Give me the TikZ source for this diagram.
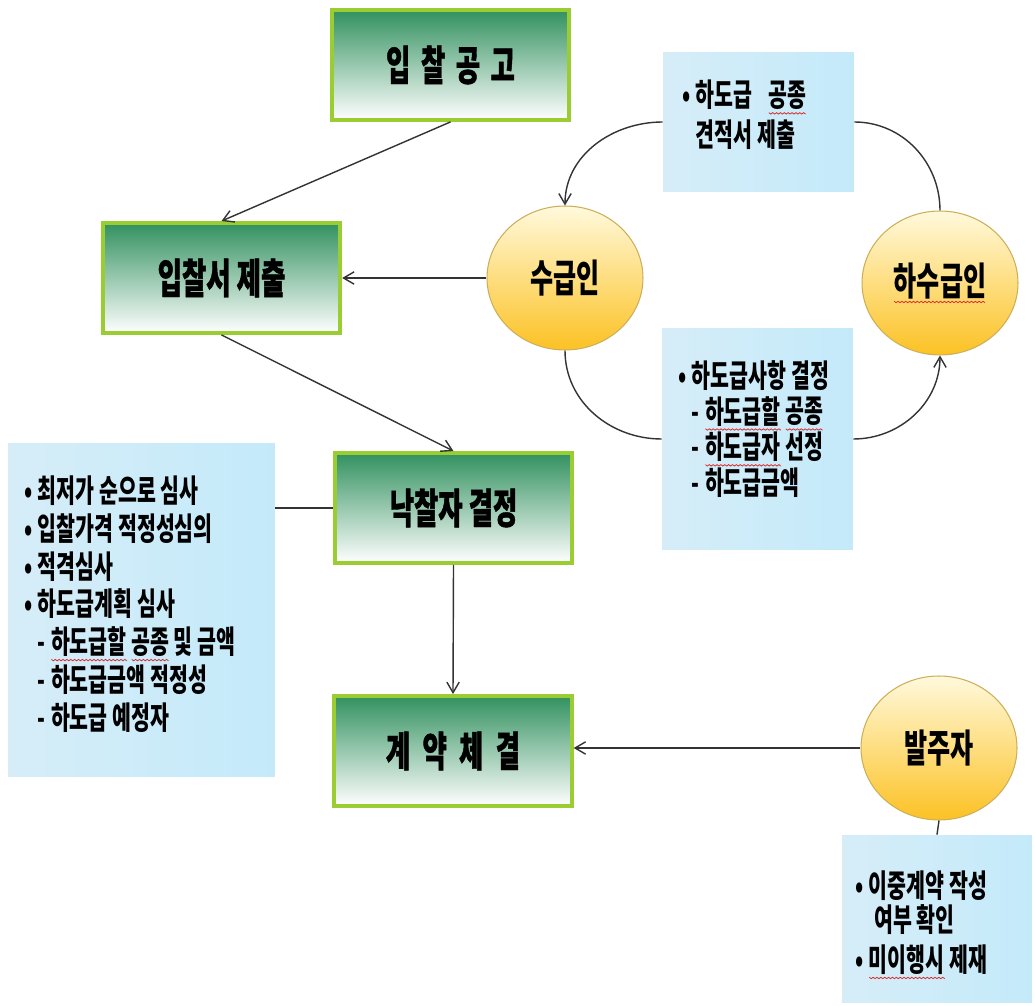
\documentclass[tikz,border=0pt]{standalone}
\usepackage{fontspec}
\usetikzlibrary{shapes.geometric,arrows.meta,positioning}
\newfontfamily\kr[FakeStretch=0.65]{Noto Sans CJK KR}
\newfontfamily\krhead[FakeStretch=0.64,FakeBold=1]{Noto Sans CJK KR}
\definecolor{boxgreen}{RGB}{50,145,95}
\definecolor{boxedge}{RGB}{154,205,50}
\definecolor{sunlight}{RGB}{255,249,220}
\definecolor{sunmid}{RGB}{255,236,160}
\definecolor{sundeep}{RGB}{252,194,36}
\definecolor{sunedge}{RGB}{205,175,90}
\definecolor{skyleft}{RGB}{214,237,248}
\definecolor{skymid}{RGB}{238,248,252}
\definecolor{skyright}{RGB}{196,234,250}
\definecolor{spellred}{RGB}{215,45,45}
\newcount\wavek
\newcommand\spell[1]{\setbox0=\hbox{#1}%
  \pgfmathtruncatemacro\wavecount{\the\wd0/1.1}%
  \rlap{\copy0}\hbox to \wd0{%
  \begin{pgfpicture}\pgfsetbaseline{0pt}%
    \pgfsetlinewidth{0.45pt}\pgfsetstrokecolor{spellred}%
    \pgfpathmoveto{\pgfpoint{0pt}{-3.3pt}}%
    \wavek=0
    \loop\ifnum\wavek<\wavecount
      \advance\wavek by 1
      \ifodd\wavek \pgfpathlineto{\pgfpoint{1.1pt*\wavek}{-4.1pt}}%
      \else \pgfpathlineto{\pgfpoint{1.1pt*\wavek}{-3.3pt}}\fi
    \repeat
    \pgfusepath{stroke}%
  \end{pgfpicture}\hss}}
\tikzset{
  stage/.style={rectangle, draw=boxedge, line width=2.2pt, top color=boxgreen, bottom color=white,
    minimum width=4.75cm, minimum height=2.2cm, font=\krhead\bfseries\fontsize{23.5}{26}\selectfont},
  party/.style={ellipse, draw=sunedge, line width=0.6pt, top color=sunlight, middle color=sunmid,
    bottom color=sundeep, minimum width=3.12cm, minimum height=2.88cm,
    font=\kr\bfseries\fontsize{22}{25}\selectfont},
  note/.style={rectangle, left color=skyleft, middle color=skymid, right color=skyright},
  notetext/.style={align=left, inner sep=0pt, font=\kr\bfseries\fontsize{18}{#1}\selectfont},
  notetext/.default=21.5pt,
  link/.style={draw=black!80, line width=0.8pt, -{Straight Barb[length=6pt,width=7pt]}},
  plain/.style={draw=black!80, line width=0.8pt}
}
\begin{document}
\begin{tikzpicture}[x=0.02cm, y=0.02cm]
\useasboundingbox (0,0) rectangle (1035,-1006);
% steps
\node[stage] (gonggo) at (450.5,-65) {입\hspace{6pt}찰\hspace{6pt}공\hspace{6pt}고};
\node[stage] (jechul) at (221.5,-278) {입찰서 제출};
\node[stage] (nakchal) at (453.5,-508) {낙찰자 결정};
\node[stage] (gyeyak) at (453,-751) {계\hspace{7pt}약\hspace{7pt}체\hspace{7pt}결};
% parties
\node[party] (sugeup) at (565,-278) {수급인};
\node[party] (hasugeup) at (940,-283) {\spell{하수급인}};
\node[party] (balju) at (939,-748) {발주자};
% notes
\node[note, minimum width=5.34cm, minimum height=6.68cm] (simsa) at (141.5,-610) {};
\node[notetext] (simsa-t) [anchor=west] at (24,-604) {%
  •\,최저가 순으로 심사\\
  •\,입찰가격 적정성심의\\
  •\,적격심사\\
  •\,하도급계획 심사\\
  \phantom{•\,}-\,\spell{하도급할} \spell{공종} 및 금액\\
  \phantom{•\,}-\,하도급금액 적정성\\
  \phantom{•\,}-\,하도급 예정자};
\node[note, minimum width=3.82cm, minimum height=2.8cm] (gyeonjeok) at (758.5,-122) {};
\node[notetext=22.7pt] (gyeonjeok-t) [anchor=west] at (682,-115) {%
  •\,하도급\hspace{9pt}\spell{공종}\\
  \phantom{•\,}견적서 제출};
\node[note, minimum width=3.82cm, minimum height=4.44cm] (gyeoljeong) at (757.5,-439) {};
\node[notetext=20.4pt] (gyeoljeong-t) [anchor=west] at (678,-429) {%
  •\,하도급사항 결정\\
  \phantom{•\,}-\,\spell{하도급할} \spell{공종}\\
  \phantom{•\,}-\,\spell{하도급자} 선정\\
  \phantom{•\,}-\,하도급금액};
\node[note, minimum width=3.8cm, minimum height=3.36cm] (hwagin) at (937,-919) {};
\node[notetext=19pt] (hwagin-t) [anchor=west] at (855,-925) {%
  •\,이중계약 작성\\
  \phantom{•\,}\,여부 확인\\[4pt]
  •\,\spell{미이행시} 제재};
% flow
\draw[link] (gonggo.south) -- (jechul.north);
\draw[link] (sugeup.west) -- (jechul.east);
\draw[link] (jechul.south) -- (nakchal.north);
\draw[plain] (simsa.east |- nakchal.west) -- (nakchal.west);
\draw[link] (nakchal.south) -- (gyeyak.north);
\draw[link] (balju.west) -- (gyeyak.east |- balju.west);
\draw[plain] (balju.south) -- (hwagin.north);
\draw[link] (gyeonjeok.west) to[out=180, in=90] (sugeup.north);
\draw[plain] (gyeonjeok.east) to[out=0, in=90] (hasugeup.north);
\draw[plain] (sugeup.south) to[out=-90, in=180] (gyeoljeong.west);
\draw[link] (gyeoljeong.east) to[out=0, in=-90] (hasugeup.south);
\end{tikzpicture}
\end{document}
